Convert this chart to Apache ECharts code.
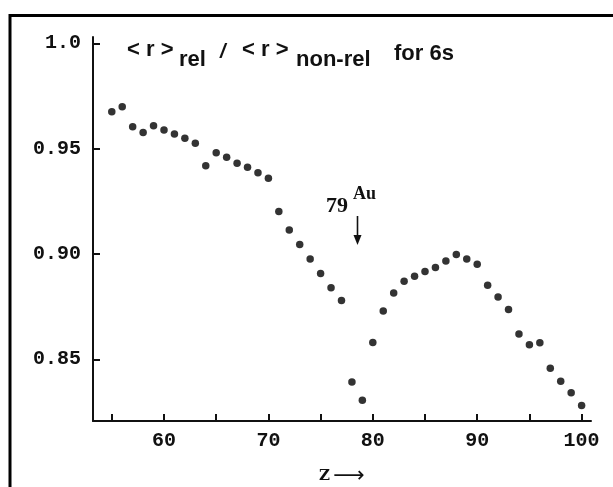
<!DOCTYPE html>
<html>
<head>
<meta charset="utf-8">
<script src="https://cdn.jsdelivr.net/npm/echarts@6/dist/echarts.min.js"></script>
<style>
  html, body { margin: 0; padding: 0; background: #fff; }
  #chart { width: 613px; height: 487px; }
</style>
</head>
<body>
<div id="chart"></div>
<script>
// atomic number Z
const zValues = [
  55, 56, 57, 58, 59, 60, 61, 62, 63, 64, 65, 66, 67, 68, 69, 70,
  71, 72, 73, 74, 75, 76, 77, 78, 79, 80, 81, 82, 83, 84, 85, 86,
  87, 88, 89, 90, 91, 92, 93, 94, 95, 96, 97, 98, 99, 100
];
// <r>rel / <r>non-rel for 6s
const ratioValues = [
  0.9675, 0.9699, 0.9604, 0.9577, 0.9609, 0.9588, 0.9569, 0.9549, 0.9525, 0.9419, 0.948, 0.9459, 0.9431, 0.9412, 0.9385, 0.9359,
  0.9202, 0.9114, 0.9045, 0.8976, 0.8907, 0.884, 0.8779, 0.8392, 0.8305, 0.858, 0.8729, 0.8815, 0.887, 0.8894, 0.8917, 0.8936,
  0.8967, 0.8997, 0.8976, 0.8951, 0.8851, 0.8796, 0.8736, 0.862, 0.8569, 0.8579, 0.8457, 0.8396, 0.8341, 0.8281
];
const xTicks = [55, 60, 65, 70, 75, 80, 85, 90, 95, 100];
const xLabels = [60, 70, 80, 90, 100];
const yTicks = [0.85, 0.9, 0.95, 1.0];

const chart = echarts.init(document.getElementById("chart"));

const points = zValues.map((z, i) => [z, ratioValues[i]]);
const ink = "#111";
const monoFont = "Liberation Mono";

chart.setOption({
  animation: false,
  backgroundColor: "#fff",
  grid: {
    left: 93,
    right: 22,
    top: 37,
    bottom: 66,
    containLabel: false,
    outerBoundsMode: "none",
  },
  xAxis: {
    type: "value",
    min: 53.2,
    max: 100.9,
    name: "{z|Z} {a|⟶}",
    nameLocation: "middle",
    nameGap: 44,
    nameTextStyle: {
      rich: {
        z: { fontFamily: "DejaVu Serif", fontWeight: "bold", fontSize: 15, color: ink },
        a: { fontFamily: "DejaVu Sans", fontSize: 22, color: ink },
      },
    },
    axisLine: { show: true, onZero: false, lineStyle: { color: ink, width: 2 } },
    axisTick: {
      show: true,
      inside: true,
      length: 7,
      customValues: xTicks,
      lineStyle: { color: ink, width: 2 },
    },
    axisLabel: {
      customValues: xLabels,
      margin: 10,
      fontFamily: monoFont,
      fontWeight: "bold",
      fontSize: 20,
      color: ink,
    },
    splitLine: { show: false },
  },
  yAxis: {
    type: "value",
    min: 0.8207,
    max: 1.003,
    axisLine: { show: true, onZero: false, lineStyle: { color: ink, width: 2 } },
    axisTick: {
      show: true,
      inside: true,
      length: 7,
      customValues: yTicks,
      lineStyle: { color: ink, width: 2 },
    },
    axisLabel: {
      customValues: yTicks,
      margin: 12,
      fontFamily: monoFont,
      fontWeight: "bold",
      fontSize: 20,
      color: ink,
      formatter: (v) => (v === 1 ? "1.0" : v.toFixed(2)),
    },
    splitLine: { show: false },
  },
  series: [
    {
      type: "scatter",
      data: points,
      symbol: "circle",
      symbolSize: 7.5,
      itemStyle: { color: "#000" },
    },
  ],
  graphic: [
    // frame
    {
      type: "polyline",
      shape: { points: [[10, 487], [10, 15.5], [613, 15.5]] },
      style: { stroke: "#000", lineWidth: 3, fill: null },
    },
    // title pieces
    { type: "text", style: { x: 127, y: 50.3, text: "< r >", font: "bold 22px 'Liberation Sans'", fill: ink, textVerticalAlign: "middle" } },
    { type: "text", style: { x: 179, y: 60.3, text: "rel", font: "bold 22px 'Liberation Sans'", fill: ink, textVerticalAlign: "middle" } },
    { type: "text", style: { x: 220, y: 52, text: "/", font: "bold italic 20px 'Liberation Sans'", fill: ink, textVerticalAlign: "middle" } },
    { type: "text", style: { x: 242, y: 50.3, text: "< r >", font: "bold 22px 'Liberation Sans'", fill: ink, textVerticalAlign: "middle" } },
    { type: "text", style: { x: 296, y: 60.3, text: "non-rel", font: "bold 22px 'Liberation Sans'", fill: ink, textVerticalAlign: "middle" } },
    { type: "text", style: { x: 394, y: 54.3, text: "for 6s", font: "bold 22px 'Liberation Sans'", fill: ink, textVerticalAlign: "middle" } },
    // gold annotation
    { type: "text", style: { x: 326, y: 206, text: "79", font: "bold 22px 'Liberation Serif'", fill: ink, textVerticalAlign: "middle" } },
    { type: "text", style: { x: 353, y: 194, text: "Au", font: "bold 18px 'Liberation Serif'", fill: ink, textVerticalAlign: "middle" } },
    {
      type: "line",
      shape: { x1: 357.5, y1: 216, x2: 357.5, y2: 238 },
      style: { stroke: ink, lineWidth: 1.6 },
    },
    {
      type: "polygon",
      shape: { points: [[353.5, 235], [361.5, 235], [357.5, 245]] },
      style: { fill: ink },
    },
  ],
});
</script>
</body>
</html>
